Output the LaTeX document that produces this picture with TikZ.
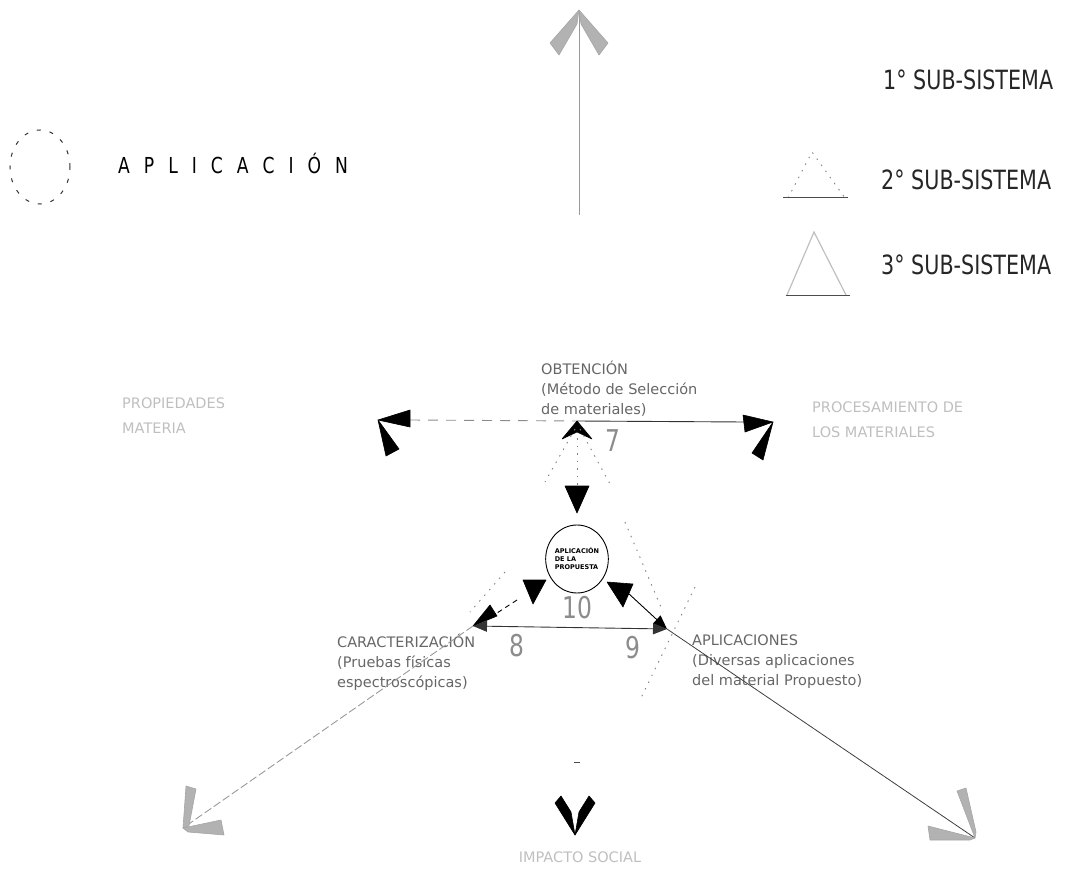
\documentclass[tikz,border=0pt]{standalone}
\usepackage{fontspec}
\setmainfont{DejaVu Sans}
\newfontfamily\cond[FakeStretch=0.78]{DejaVu Sans}
\usetikzlibrary{arrows.meta,shapes.geometric}
\begin{document}
\begin{tikzpicture}[x=1pt,y=-1pt,
  blackbarb/.style={fill=black,draw=black,line width=0.6pt,line join=round},
  graybarb/.style={fill=black!30,draw=black!35,line width=0.6pt,line join=round},
  lbl/.style={text=black!60,font=\fontsize{14.5}{20}\selectfont,align=left,inner sep=0pt,anchor=north west},
  faint/.style={text=black!25,font=\fontsize{14.5}{25}\selectfont,align=left,inner sep=0pt,anchor=north west},
  legtxt/.style={text=black!85,font=\cond\fontsize{26.5}{28}\selectfont,inner sep=0pt,anchor=west},
  num/.style={text=black!45,font=\cond\fontsize{30}{30}\selectfont,inner sep=0pt},
  dotline/.style={draw=black!50,line width=0.9pt,dash pattern=on 1.5pt off 6pt},
  axis/.style={draw=black!40,line width=0.8pt},
  link/.style={draw=black,line width=0.9pt,-{Triangle[length=14pt,width=11pt]}}
]
\useasboundingbox (0,0) rectangle (1068,869);

% ---------- legend ----------
\node[draw=black!80,line width=1pt,dash pattern=on 4pt off 9pt,ellipse,minimum width=60pt,minimum height=74pt,inner sep=0pt] (legc) at (40,167) {};
\newcommand{\ls}{\hspace{14pt}}
\node[legtxt,font=\cond\fontsize{22}{24}\selectfont,text=black] (legapl) at (118,163) {A\ls P\ls L\ls I\ls C\ls A\ls C\ls I\ls Ó\ls N};
\node[legtxt] (leg1) at (883,80) {1° SUB-SISTEMA};
\node[legtxt] (leg2) at (881,180) {2° SUB-SISTEMA};
\node[legtxt] (leg3) at (881,265) {3° SUB-SISTEMA};
\coordinate (s2a) at (788,198); \coordinate (s2b) at (812,152); \coordinate (s2c) at (845,198);
\draw[dotline] (s2a) -- (s2b) -- (s2c);
\draw[black!70,line width=1pt] (783,198) -- (848,198);
\coordinate (s3a) at (787,295); \coordinate (s3b) at (814,232); \coordinate (s3c) at (846,295);
\draw[black!25,line width=1.2pt] (s3a) -- (s3b) -- (s3c);
\draw[black!70,line width=1pt] (786,295) -- (850,295);

% ---------- main coordinates ----------
\coordinate (top) at (579,10);
\coordinate (topbase) at (579,215);
\coordinate (L) at (378,420);
\coordinate (R) at (773,422);
\coordinate (C) at (577,421);
\coordinate (K) at (473,626);
\coordinate (A) at (667,629);
\coordinate (BL) at (183,828);
\coordinate (BR) at (975,838);
\coordinate (BV) at (575,835);

% top axis
\draw[axis] (topbase) -- (top);
\fill[graybarb] (top) -- (550,43) -- (559,55) -- (577,24) -- cycle;
\fill[graybarb] (top) -- (608,43) -- (599,55) -- (581,24) -- cycle;

% horizontal axis
\draw[black!45,line width=0.9pt,dash pattern=on 10pt off 8pt] (410,420) -- (C);
\draw[black!80,line width=0.9pt] (C) -- (745,422);
\fill[blackbarb] (L) -- (410,410) -- (410,427) -- cycle;
\fill[blackbarb] (L) -- (386,456) -- (399,449) -- cycle;
\fill[blackbarb] (R) -- (743,415) -- (745,432) -- cycle;
\fill[blackbarb] (R) -- (752,453) -- (763,460) -- cycle;

% labels
\node[lbl] (obt) at (541,361) {OBTENCIÓN\\(Método de Selección\\de materiales)};
\node[faint] (prop) at (122,398) {PROPIEDADES\\MATERIA};
\node[faint] (proc) at (812,402) {PROCESAMIENTO DE\\LOS MATERIALES};
\node[num] (n7) at (613,441) {7};

% central element
\node[draw=black,line width=0.9pt,ellipse,minimum width=62pt,minimum height=68pt,inner sep=0pt,
  font=\bfseries\fontsize{6.5}{8}\selectfont,align=left] (apl) at (577,559) {APLICACIÓN\\DE LA\\PROPUESTA};
\node[num] (n10) at (577,608) {10};

% vertical link between OBTENCION and circle
\draw[dotline] (577,438) -- (577,486);
\fill[blackbarb] (C) -- (592,439) -- (577,432) -- (562,439) -- cycle;
\fill[blackbarb] (565,486) -- (589,486) -- (577,513) -- cycle;
\draw[dotline] (575,429) -- (545,482);
\draw[dotline] (580,429) -- (610,484);

% links circle -> caracterizacion / aplicaciones
\fill[blackbarb] (523,580) -- (546,580) -- (533,604) -- cycle;
\fill[blackbarb] (607,582) -- (633,584) -- (623,607) -- cycle;
\draw[black,line width=0.9pt,dash pattern=on 5pt off 4pt] (517,600) -- (497,613);
\fill[blackbarb] (K) -- (490,605) -- (497,616) -- cycle;
\draw[link] (628,593) -- (A);
\draw[black!80,line width=0.9pt,{Triangle[length=14pt,width=11pt]}-{Triangle[length=14pt,width=11pt]}] (K) -- (A);
\node[num] (n8) at (517,646) {8};
\node[num] (n9) at (633,648) {9};

% dotted sides of the second sub-system
\draw[dotline] (625,522) -- (663,612);
\draw[dotline] (695,587) -- (640,700);
\draw[dotline] (505,572) -- (470,612);

\node[lbl] (car) at (337,634) {CARACTERIZACIÓN\\(Pruebas físicas\\espectroscópicas)};
\node[lbl] (apls) at (692,635) {APLICACIONES\\(Diversas aplicaciones\\del material Propuesto)};

% long diagonal axes
\draw[black!40,line width=0.9pt,dash pattern=on 8pt off 3pt] (K) -- (BL);
\draw[black!75,line width=0.8pt] (A) -- (BR);
\fill[graybarb] (BL) -- (186,786) -- (196,789) -- (189,826) -- cycle;
\fill[graybarb] (BL) -- (221,820) -- (224,835) -- (188,832) -- cycle;
\fill[graybarb] (BR) -- (957,791) -- (966,788) -- (976,832) -- cycle;
\fill[graybarb] (BR) -- (928,826) -- (930,840) -- (970,840) -- cycle;

% bottom axis
\draw[black!70,line width=1pt] (574,762) -- (580,762);
\fill[blackbarb] (BV) -- (555,803) -- (561,796) -- (571,812) -- cycle;
\fill[blackbarb] (BV) -- (595,803) -- (589,796) -- (579,812) -- cycle;
\node[faint,anchor=center] (bot) at (580,857) {IMPACTO SOCIAL};
\end{tikzpicture}
\end{document}
